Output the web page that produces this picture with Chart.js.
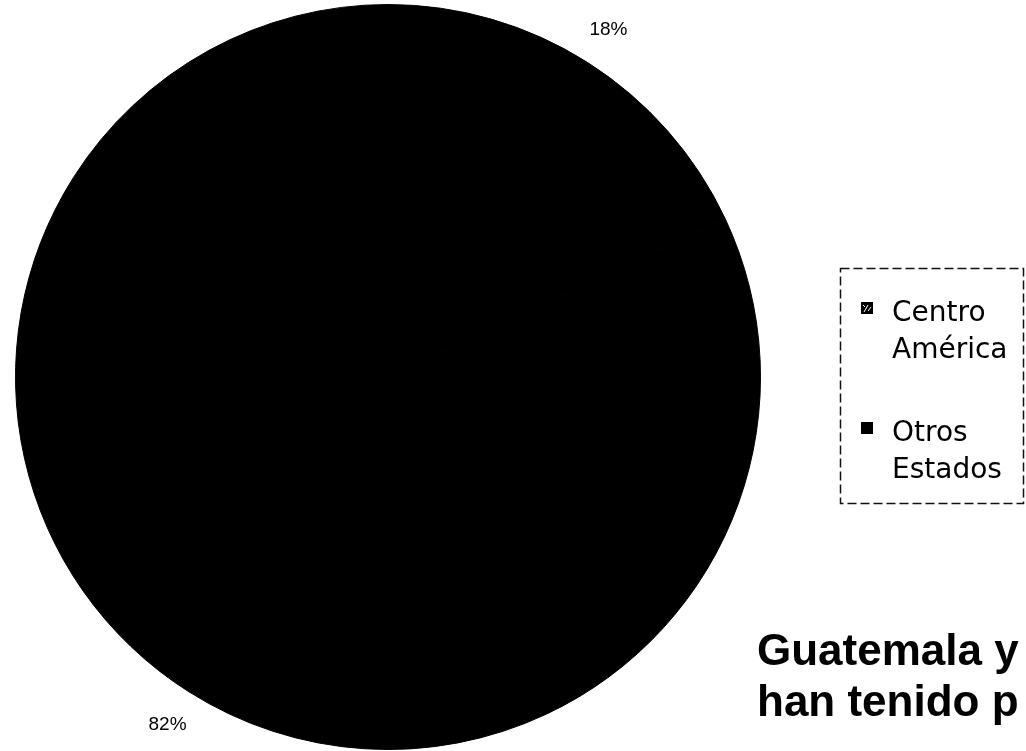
<!DOCTYPE html>
<html>
<head>
<meta charset="utf-8">
<script src="https://cdn.jsdelivr.net/npm/chart.js@4.4.1/dist/chart.umd.min.js"></script>
<style>
  html, body { margin: 0; padding: 0; background: #fff; }
  #wrap { position: relative; width: 1026px; height: 751px; }
</style>
</head>
<body>
<div id="wrap"><canvas id="myChart" width="1026" height="751"></canvas></div>
<script>
// share of trade, Guatemala
const regions = [['Centro', 'América'], ['Otros', 'Estados']];
const shares = [18, 82];
const pctLabels = ['18%', '82%'];
const titleLines = ['Guatemala y', 'han tenido p'];

// percent labels just outside the slices
const sliceLabels = {
    id: 'sliceLabels',
    afterDatasetsDraw(chart) {
        const c = chart.ctx;
        const meta = chart.getDatasetMeta(0);
        c.save();
        c.font = '19px "Liberation Sans", Arial, sans-serif';
        c.fillStyle = '#000';
        c.textAlign = 'center';
        c.textBaseline = 'middle';
        meta.data.forEach((arc, i) => {
            const mid = (arc.startAngle + arc.endAngle) / 2;
            const r = arc.outerRadius + 39;
            c.fillText(pctLabels[i], arc.x + Math.cos(mid) * r, arc.y + Math.sin(mid) * r);
        });
        c.restore();
    }
};

// dashed legend box on the right, plus the bold title
const sideLegend = {
    id: 'sideLegend',
    afterDraw(chart) {
        const c = chart.ctx;
        const colors = chart.data.datasets[0].backgroundColor;
        c.save();
        c.strokeStyle = '#111';
        c.lineWidth = 1.5;
        c.setLineDash([9, 4]);
        c.strokeRect(840.5, 268.5, 183, 235);
        c.setLineDash([]);

        c.font = '28px "DejaVu Sans", sans-serif';
        c.textBaseline = 'alphabetic';
        chart.data.labels.forEach((lab, i) => {
            const base = 321 + i * 120;
            c.fillStyle = colors[i];
            c.fillRect(861, base - 19, 12, 12);
            if (i === 0) {
                // patterned swatch for Centro América
                c.strokeStyle = '#fff';
                c.lineWidth = 1;
                c.beginPath();
                c.moveTo(864, base - 9); c.lineTo(868, base - 16);
                c.moveTo(868, base - 10); c.lineTo(871, base - 14);
                c.moveTo(863, base - 16); c.lineTo(865, base - 14);
                c.stroke();
            }
            c.fillStyle = '#000';
            lab.forEach((line, k) => c.fillText(line, 892, base + k * 37));
        });

        c.font = 'bold 44px "Liberation Sans", Arial, sans-serif';
        titleLines.forEach((t, k) => c.fillText(t, 757, 665 + k * 51));
        c.restore();
    }
};

const ctx = document.getElementById('myChart').getContext('2d');
const myChart = new Chart(ctx, {
    type: 'pie',
    data: {
        labels: regions,
        datasets: [{
            data: shares,
            backgroundColor: ['#000000', '#000000'],
            borderColor: '#000000',
            borderWidth: 1
        }]
    },
    options: {
        responsive: false,
        animation: false,
        layout: { padding: { left: 15, right: 265, top: 4, bottom: 1 } },
        plugins: {
            legend: { display: false },
            tooltip: { enabled: false }
        }
    },
    plugins: [sliceLabels, sideLegend]
});
</script>
</body>
</html>
